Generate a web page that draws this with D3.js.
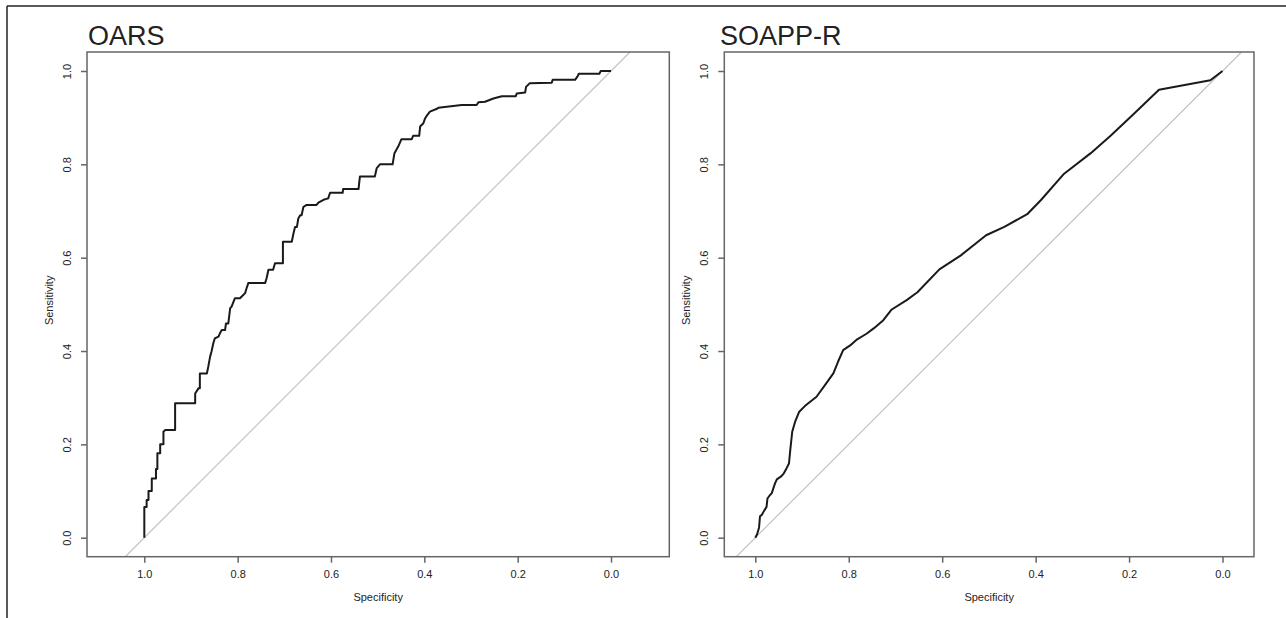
<!DOCTYPE html>
<html>
<head>
<meta charset="utf-8">
<script src="https://cdn.jsdelivr.net/npm/d3@7"></script>
<style>
    body { margin: 0; background: #fff; }
    svg { display: block; }
    text { font-family: "Liberation Sans", Arial, Helvetica, sans-serif; fill: #222; }
</style>
</head>
<body>
<svg id="chart" width="1286" height="618"></svg>
<script>
// values
var panelTitles = ['OARS', 'SOAPP-R'];
var tickValues = [1.0, 0.8, 0.6, 0.4, 0.2, 0.0];

var oarsSpecificity = [
    1.000, 1.000, 0.995, 0.995, 0.991, 0.991, 0.984, 0.984, 0.975, 0.975,
    0.972, 0.972, 0.966, 0.966, 0.959, 0.959, 0.955, 0.934, 0.934, 0.891,
    0.891, 0.884, 0.881, 0.881, 0.866, 0.863, 0.859, 0.856, 0.852, 0.849,
    0.841, 0.838, 0.834, 0.827, 0.825, 0.820, 0.816, 0.813, 0.806, 0.795,
    0.788, 0.784, 0.781, 0.777, 0.741, 0.738, 0.734, 0.724, 0.720, 0.703,
    0.703, 0.684, 0.681, 0.677, 0.673, 0.670, 0.666, 0.663, 0.659, 0.652,
    0.631, 0.627, 0.616, 0.606, 0.602, 0.575, 0.574, 0.541, 0.538, 0.506,
    0.502, 0.495, 0.468, 0.464, 0.456, 0.449, 0.427, 0.424, 0.411, 0.409,
    0.402, 0.399, 0.395, 0.388, 0.373, 0.370, 0.320, 0.288, 0.284, 0.270,
    0.252, 0.234, 0.204, 0.202, 0.184, 0.182, 0.174, 0.127, 0.125, 0.077,
    0.072, 0.069, 0.025, 0.022, 0.000
];
var oarsSensitivity = [
    0.000, 0.066, 0.066, 0.081, 0.081, 0.100, 0.100, 0.127, 0.127, 0.147,
    0.147, 0.181, 0.181, 0.200, 0.200, 0.227, 0.231, 0.231, 0.288, 0.288,
    0.309, 0.320, 0.320, 0.352, 0.352, 0.366, 0.388, 0.399, 0.417, 0.427,
    0.431, 0.438, 0.445, 0.445, 0.459, 0.459, 0.492, 0.495, 0.513, 0.513,
    0.520, 0.524, 0.534, 0.546, 0.546, 0.556, 0.574, 0.574, 0.588, 0.588,
    0.634, 0.634, 0.649, 0.666, 0.666, 0.684, 0.691, 0.691, 0.709, 0.713,
    0.713, 0.718, 0.724, 0.727, 0.739, 0.739, 0.747, 0.747, 0.774, 0.774,
    0.792, 0.800, 0.800, 0.824, 0.838, 0.854, 0.854, 0.861, 0.861, 0.881,
    0.888, 0.897, 0.904, 0.913, 0.919, 0.921, 0.927, 0.927, 0.933, 0.934,
    0.941, 0.946, 0.946, 0.952, 0.954, 0.966, 0.974, 0.975, 0.981, 0.981,
    0.988, 0.994, 0.994, 1.000, 1.000
];

var soappSpecificity = [
    1.000, 0.996, 0.992, 0.990, 0.986, 0.981, 0.976, 0.974, 0.969, 0.965,
    0.958, 0.954, 0.944, 0.939, 0.933, 0.928, 0.925, 0.921, 0.915, 0.906,
    0.894, 0.869, 0.851, 0.833, 0.823, 0.812, 0.797, 0.782, 0.762, 0.746,
    0.726, 0.708, 0.676, 0.653, 0.606, 0.560, 0.506, 0.467, 0.417, 0.389,
    0.339, 0.282, 0.239, 0.189, 0.136, 0.026, 0.000
];
var soappSensitivity = [
    0.000, 0.008, 0.022, 0.046, 0.049, 0.058, 0.066, 0.084, 0.091, 0.095,
    0.116, 0.125, 0.132, 0.138, 0.149, 0.159, 0.190, 0.227, 0.248, 0.270,
    0.282, 0.302, 0.327, 0.352, 0.377, 0.402, 0.412, 0.425, 0.437, 0.449,
    0.466, 0.489, 0.509, 0.526, 0.575, 0.605, 0.648, 0.666, 0.694, 0.723,
    0.780, 0.824, 0.862, 0.909, 0.960, 0.980, 1.000
];

var svg = d3.select('#chart');

// outer figure frame (top and left edges show in the picture)
svg.append('line').attr('x1', 7).attr('y1', 6).attr('x2', 1286).attr('y2', 6)
    .attr('stroke', '#222').attr('stroke-width', 1.5);
svg.append('line').attr('x1', 7).attr('y1', 6).attr('x2', 7).attr('y2', 618)
    .attr('stroke', '#222').attr('stroke-width', 1.5);

var panels = [
    { title: panelTitles[0], spec: oarsSpecificity, sens: oarsSensitivity,
      left: 87, right: 669.3, xDomain: [1.1228, -0.1249], titleX: 88 },
    { title: panelTitles[1], spec: soappSpecificity, sens: soappSensitivity,
      left: 724.3, right: 1254, xDomain: [1.0664, -0.0674], titleX: 720 }
];

panels.forEach(drawPanel);

function drawPanel(p, idx) {
    var top = 52, bottom = 556.7;
    var yDomain = [-0.0407, 1.0407];

    var x = d3.scaleLinear().domain(p.xDomain).range([p.left, p.right]);
    var y = d3.scaleLinear().domain(yDomain).range([bottom, top]);

    var g = svg.append('g').attr('class', 'panel-' + idx);

    var clipId = 'clip' + idx;
    g.append('clipPath').attr('id', clipId)
        .append('rect')
        .attr('x', p.left).attr('y', top)
        .attr('width', p.right - p.left).attr('height', bottom - top);

    // chance diagonal, spans the whole plot region
    g.append('line')
        .attr('clip-path', 'url(#' + clipId + ')')
        .attr('x1', x(1 - yDomain[0])).attr('y1', y(yDomain[0]))
        .attr('x2', x(1 - yDomain[1])).attr('y2', y(yDomain[1]))
        .attr('stroke', '#bdbdbd').attr('stroke-width', 1.1);

    var points = d3.zip(p.spec, p.sens);
    var line = d3.line()
        .x(function (d) { return x(d[0]); })
        .y(function (d) { return y(d[1]); });

    g.append('path')
        .datum(points)
        .attr('d', line)
        .attr('fill', 'none')
        .attr('stroke', '#1a1a1a')
        .attr('stroke-width', 2)
        .attr('stroke-linejoin', 'round');

    // plot box
    g.append('rect')
        .attr('x', p.left).attr('y', top)
        .attr('width', p.right - p.left).attr('height', bottom - top)
        .attr('fill', 'none').attr('stroke', '#666').attr('stroke-width', 1.5);

    var xAxis = d3.axisBottom(x).tickValues(tickValues).tickSize(6).tickPadding(8)
        .tickFormat(d3.format('.1f'));
    var xg = g.append('g').attr('transform', 'translate(0,' + bottom + ')').call(xAxis);
    xg.select('.domain').remove();
    xg.selectAll('.tick line').attr('stroke', '#666').attr('stroke-width', 1.5);
    xg.selectAll('.tick text').attr('font-size', 11).attr('fill', '#333')
        .attr('font-family', '"Liberation Sans", Arial, sans-serif');

    var yAxis = d3.axisLeft(y).tickValues(tickValues).tickSize(6).tickFormat(d3.format('.1f'));
    var yg = g.append('g').attr('transform', 'translate(' + p.left + ',0)').call(yAxis);
    yg.select('.domain').remove();
    yg.selectAll('.tick line').attr('stroke', '#666').attr('stroke-width', 1.5);
    yg.selectAll('.tick text')
        .attr('font-size', 11).attr('fill', '#333')
        .attr('font-family', '"Liberation Sans", Arial, sans-serif')
        .attr('text-anchor', 'middle')
        .attr('x', null).attr('dy', null)
        .attr('transform', 'translate(-20,0) rotate(-90)')
        .attr('dominant-baseline', 'central');

    g.append('text')
        .attr('x', (p.left + p.right) / 2).attr('y', 601)
        .attr('text-anchor', 'middle').attr('font-size', 11).attr('fill', '#333')
        .text('Specificity');

    g.append('text')
        .attr('transform', 'translate(' + (p.left - 38) + ',' + ((top + bottom) / 2 - 4) + ') rotate(-90)')
        .attr('text-anchor', 'middle').attr('dominant-baseline', 'central')
        .attr('font-size', 11).attr('fill', '#333')
        .text('Sensitivity');

    g.append('text')
        .attr('x', p.titleX).attr('y', 45)
        .attr('font-size', 27).attr('fill', '#111')
        .text(p.title);
}
</script>
</body>
</html>
